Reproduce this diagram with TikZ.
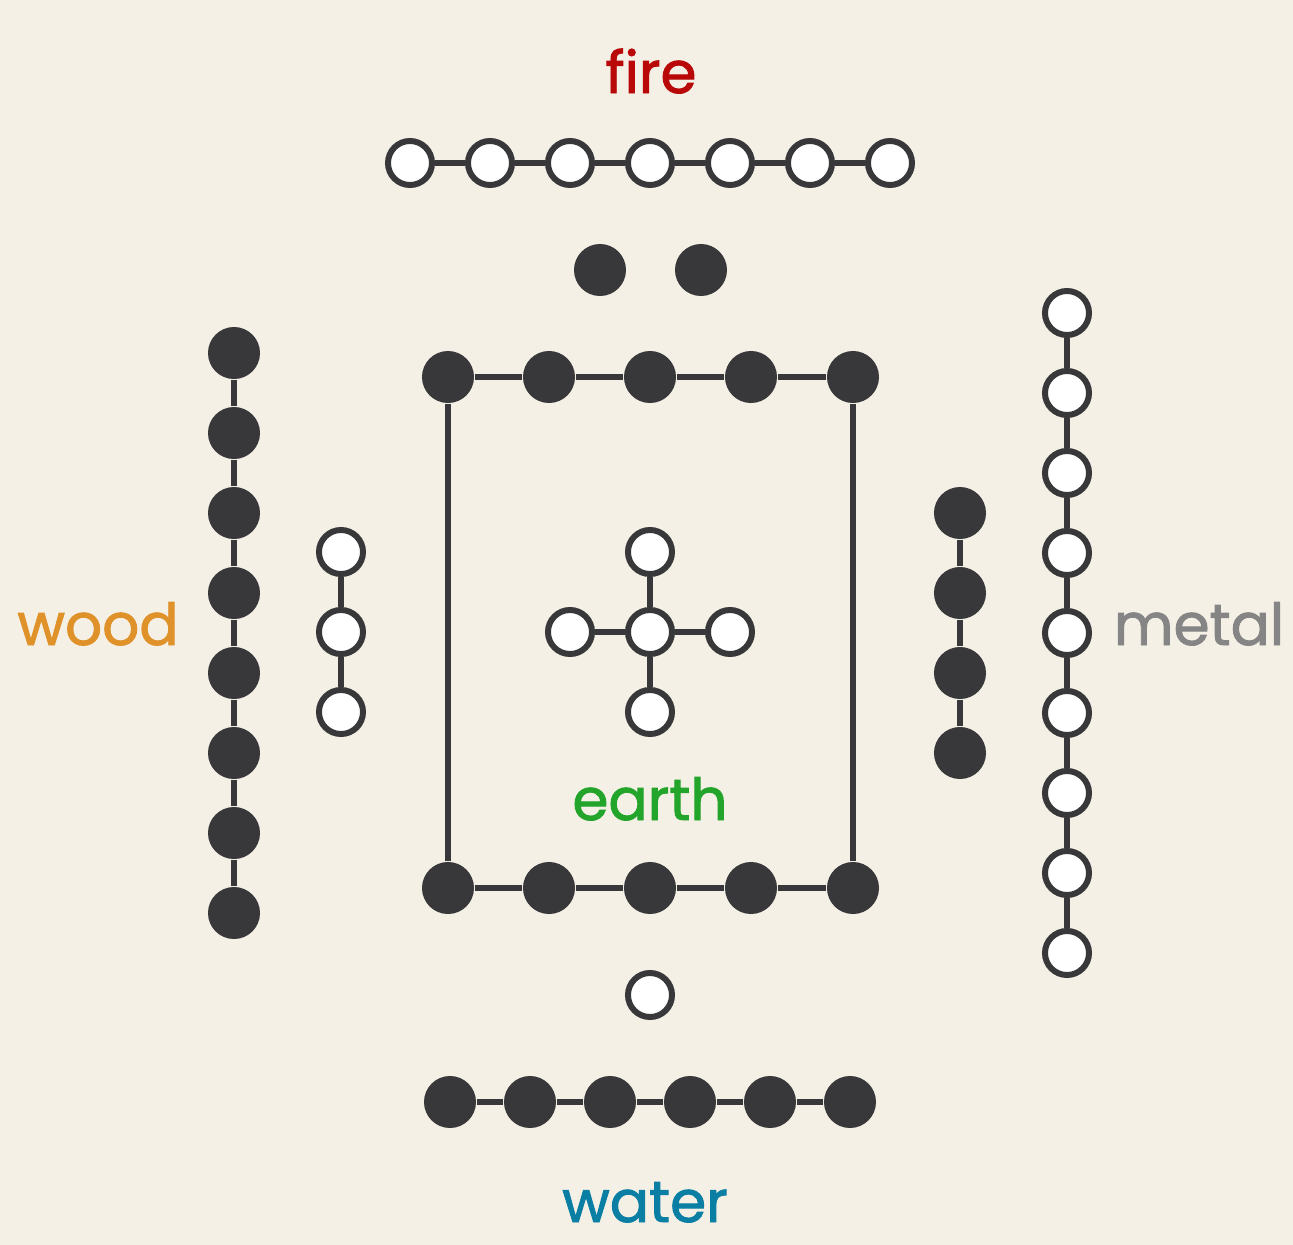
\documentclass[tikz,border=0pt]{standalone}
\usepackage{fontspec}
\setmainfont{Poppins}
\newfontfamily\elfont{Poppins}[FakeBold=1.6]
\definecolor{paper}{HTML}{F5F0E6}
\definecolor{ink}{HTML}{38383A}
\definecolor{firered}{HTML}{B80808}
\definecolor{woodorange}{HTML}{E0922A}
\definecolor{earthgreen}{HTML}{22A52A}
\definecolor{watercyan}{HTML}{0A7FA3}
\definecolor{metalgray}{HTML}{858585}
\tikzset{
  yin/.style={circle,fill=ink,minimum size=0.52cm,inner sep=0pt},
  yang/.style={circle,draw=ink,fill=white,line width=1.7pt,minimum size=0.44cm,inner sep=0pt},
  bond/.style={draw=ink,line width=1.7pt},
  element/.style={anchor=base,font=\elfont\fontsize{16.5}{20}\selectfont}
}
\begin{document}
\begin{tikzpicture}[x=0.01cm,y=-0.01cm]
    \fill[paper] (0,0) rectangle (1293,1245);
    \useasboundingbox (0,0) rectangle (1293,1245);
    % fire: seven yang
    \foreach \i [count=\k] in {410,490,...,890} {\node[yang] (f\k) at (\i,163) {};}
    \foreach \k [count=\j from 2] in {1,...,6} {\path[bond] (f\k) -- (f\j);}
    \node[element,text=firered] (fire) at (651,93) {fire};
    \node[yin] (d1) at (600,270) {};
    \node[yin] (d2) at (701,270) {};
    % earth: square of yin
    \foreach \i [count=\k] in {448,549,650,751,853} {
      \node[yin] (t\k) at (\i,377) {};
      \node[yin] (b\k) at (\i,888) {};
    }
    \foreach \k [count=\j from 2] in {1,...,4} {\path[bond] (t\k) -- (t\j); \path[bond] (b\k) -- (b\j);}
    \path[bond] (t1) -- (b1);
    \path[bond] (t5) -- (b5);
    \node[yang] (c) at (650,632) {};
    \node[yang] (cn) at (650,552) {};
    \node[yang] (cs) at (650,712) {};
    \node[yang] (cw) at (570,632) {};
    \node[yang] (ce) at (730,632) {};
    \foreach \n in {cn,cs,cw,ce} {\path[bond] (c) -- (\n);}
    \node[element,text=earthgreen] (earth) at (650,820) {earth};
    % wood
    \foreach \i [count=\k] in {353,433,...,913} {\node[yin] (w\k) at (234,\i) {};}
    \foreach \k [count=\j from 2] in {1,...,7} {\path[bond] (w\k) -- (w\j);}
    \foreach \i [count=\k] in {552,632,712} {\node[yang] (v\k) at (341,\i) {};}
    \path[bond] (v1) -- (v2) -- (v3);
    \node[element,text=woodorange] (wood) at (98,645) {wood};
    % metal
    \foreach \i [count=\k] in {313,393,...,953} {\node[yang] (m\k) at (1067,\i) {};}
    \foreach \k [count=\j from 2] in {1,...,8} {\path[bond] (m\k) -- (m\j);}
    \foreach \i [count=\k] in {513,593,673,753} {\node[yin] (r\k) at (960,\i) {};}
    \foreach \k [count=\j from 2] in {1,...,3} {\path[bond] (r\k) -- (r\j);}
    \node[element,text=metalgray] (metal) at (1199,645) {metal};
    % water
    \node[yang] (u) at (650,995) {};
    \foreach \i [count=\k] in {450,530,...,850} {\node[yin] (a\k) at (\i,1102) {};}
    \foreach \k [count=\j from 2] in {1,...,5} {\path[bond] (a\k) -- (a\j);}
    \node[element,text=watercyan] (water) at (645,1222) {water};
\end{tikzpicture}
\end{document}
